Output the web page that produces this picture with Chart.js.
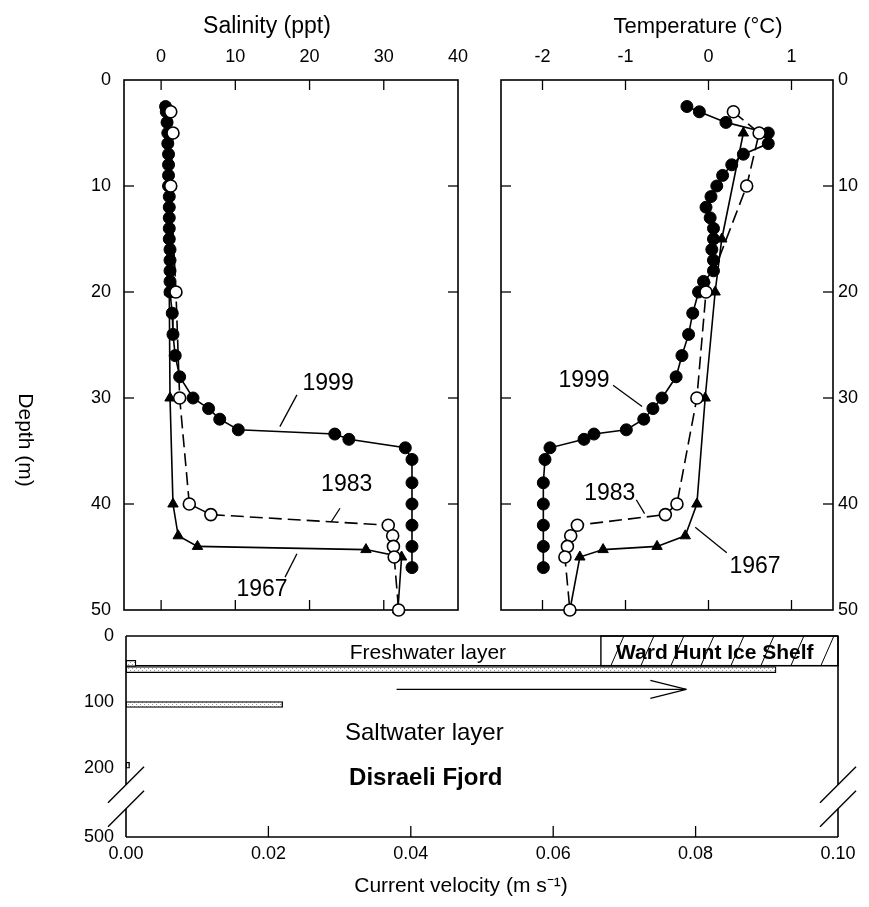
<!DOCTYPE html>
<html>
<head>
<meta charset="utf-8">
<script src="https://cdn.jsdelivr.net/npm/chart.js@4.4.0/dist/chart.umd.min.js"></script>
<style>
html, body { margin: 0; padding: 0; background: #fff; }
#wrap { position: relative; width: 869px; height: 907px; }
#wrap canvas { position: absolute; left: 0; top: 0; }
</style>
</head>
<body>
<div id="wrap">
  <canvas id="sal" width="869" height="907"></canvas>
  <canvas id="temp" width="869" height="907"></canvas>
  <canvas id="vel" width="869" height="907"></canvas>
</div>
<script>
// tick values
const salTicks = [0, 10, 20, 30, 40];
const tempTicks = [-2, -1, 0, 1];
const depthTicks = [0, 10, 20, 30, 40, 50];
const velTicks = [0, 0.02, 0.04, 0.06, 0.08, 0.10];
const velDepthTicks = [0, 100, 200, 305];
const velDepthLabels = ['0', '100', '200', '500'];

// 1999 profile
const depth1999 = [2.5, 3, 4, 5, 6, 7, 8, 9, 10, 11, 12, 13, 14, 15, 16, 17, 18, 19, 20, 22, 24, 26, 28, 30, 31, 32, 33, 33.4, 33.9, 34.7, 35.8, 38, 40, 42, 44, 46];
const sal1999 = [0.6, 0.7, 0.8, 0.9, 0.9, 1.0, 1.0, 1.0, 1.0, 1.1, 1.1, 1.1, 1.1, 1.1, 1.2, 1.2, 1.2, 1.2, 1.2, 1.5, 1.6, 1.9, 2.5, 4.3, 6.4, 7.9, 10.4, 23.4, 25.3, 32.9, 33.8, 33.8, 33.8, 33.8, 33.8, 33.8];
const temp1999 = [-0.26, -0.11, 0.21, 0.72, 0.72, 0.42, 0.28, 0.17, 0.10, 0.03, -0.03, 0.02, 0.06, 0.06, 0.04, 0.06, 0.06, -0.06, -0.12, -0.19, -0.24, -0.32, -0.39, -0.56, -0.67, -0.78, -0.99, -1.38, -1.50, -1.91, -1.97, -1.99, -1.99, -1.99, -1.99, -1.99];

// 1983 profile
const depth1983 = [3, 5, 10, 20, 30, 40, 41, 42, 43, 44, 45, 50];
const sal1983 = [1.3, 1.6, 1.3, 2.0, 2.5, 3.8, 6.7, 30.6, 31.2, 31.3, 31.4, 32.0];
const temp1983 = [0.30, 0.61, 0.46, -0.03, -0.14, -0.38, -0.52, -1.58, -1.66, -1.70, -1.73, -1.67];

// 1967 profile
const depth1967 = [5, 15, 20, 30, 40, 43, 44, 44.3, 45, 50];
const sal1967 = [1.0, 1.1, 1.1, 1.2, 1.6, 2.3, 4.9, 27.6, 32.4, 31.9];
const temp1967 = [0.42, 0.16, 0.08, -0.04, -0.14, -0.28, -0.62, -1.27, -1.55, -1.67];

// current velocity profile
const velDepth = [41.5, 51, 104, 196];
const velocity = [0.0014, 0.0913, 0.022, 0.0005];

const FONT = '"Liberation Sans", Arial, Helvetica, sans-serif';
Chart.defaults.font.family = FONT;
Chart.defaults.color = '#000';

const pts = (xs, ys) => xs.map((x, i) => ({ x: x, y: ys[i] }));

function profileSets(isTemp) {
    return [
        {
            label: '1983',
            data: isTemp ? pts(temp1983, depth1983) : pts(sal1983, depth1983),
            borderColor: '#000', borderWidth: 1.6, borderDash: [13, 6],
            pointStyle: 'circle', pointRadius: 6, pointBackgroundColor: '#fff',
            pointBorderColor: '#000', pointBorderWidth: 1.6,
            showLine: true, clip: false
        },
        {
            label: '1967',
            data: isTemp ? pts(temp1967, depth1967) : pts(sal1967, depth1967),
            borderColor: '#000', borderWidth: 1.6,
            pointStyle: 'triangle', pointRadius: 6, pointBackgroundColor: '#000',
            pointBorderColor: '#000', pointBorderWidth: 1,
            showLine: true, clip: false
        },
        {
            label: '1999',
            data: isTemp ? pts(temp1999, depth1999) : pts(sal1999, depth1999),
            borderColor: '#000', borderWidth: 1.6,
            pointStyle: 'circle', pointRadius: 6, pointBackgroundColor: '#000',
            pointBorderColor: '#000', pointBorderWidth: 1,
            showLine: true, clip: false
        }
    ];
}

function line(ctx, x1, y1, x2, y2) {
    ctx.beginPath(); ctx.moveTo(x1, y1); ctx.lineTo(x2, y2); ctx.stroke();
}

function text(ctx, str, x, y, font, rot) {
    ctx.save();
    ctx.translate(x, y);
    if (rot) ctx.rotate(rot);
    ctx.font = font + ' ' + FONT;
    ctx.textAlign = 'center';
    ctx.textBaseline = 'middle';
    ctx.fillText(str, 0, 0);
    ctx.restore();
}

// frame, inward ticks, leader lines and labels
function makeFrame(cfg) {
    return {
        id: 'frame',
        beforeDatasetsDraw(chart) {
            const { ctx, chartArea: a, scales: { x, y } } = chart;
            ctx.save();
            ctx.strokeStyle = '#000';
            ctx.fillStyle = '#000';
            ctx.lineWidth = 1.6;
            if (cfg.gap) {
                const g1 = y.getPixelForValue(cfg.gap) - 12, g2 = y.getPixelForValue(cfg.gap) + 12;
                line(ctx, a.left, a.top, a.right, a.top);
                line(ctx, a.left, a.bottom, a.right, a.bottom);
                [a.left, a.right].forEach(px => {
                    line(ctx, px, a.top, px, g1);
                    line(ctx, px, g2, px, a.bottom);
                    ctx.lineWidth = 1.4;
                    line(ctx, px - 18, g1 + 18, px + 18, g1 - 18);
                    line(ctx, px - 18, g2 + 18, px + 18, g2 - 18);
                    ctx.lineWidth = 1.6;
                });
            } else {
                ctx.strokeRect(a.left, a.top, a.right - a.left, a.bottom - a.top);
            }
            const L = cfg.tickLen || 10;
            ctx.lineWidth = 1.3;
            (cfg.xTicks || []).forEach(v => {
                const px = x.getPixelForValue(v);
                if (px <= a.left + 1 || px >= a.right - 1) return;
                if (cfg.top !== false) line(ctx, px, a.top, px, a.top + L);
                line(ctx, px, a.bottom, px, a.bottom - L);
            });
            (cfg.yTicks || []).forEach(v => {
                const py = y.getPixelForValue(v);
                if (py <= a.top + 1 || py >= a.bottom - 1) return;
                line(ctx, a.left, py, a.left + L, py);
                line(ctx, a.right, py, a.right - L, py);
            });
            (cfg.leaders || []).forEach(l => {
                line(ctx, x.getPixelForValue(l[0]), y.getPixelForValue(l[1]),
                    x.getPixelForValue(l[2]), y.getPixelForValue(l[3]));
            });
            (cfg.labels || []).forEach(t => {
                text(ctx, t.text, x.getPixelForValue(t.x), y.getPixelForValue(t.y), '23px');
            });
            (cfg.titles || []).forEach(t => {
                text(ctx, t.text, t.cx, t.cy, t.font, t.rot);
            });
            if (cfg.extra) cfg.extra(chart, ctx);
            ctx.restore();
        }
    };
}

function explicitTicks(values) {
    return scale => { scale.ticks = values.map(v => ({ value: v })); };
}

const tickFont = { size: 18 };
const noGrid = { display: false, drawTicks: false };

// Salinity panel
new Chart(document.getElementById('sal'), {
    type: 'scatter',
    data: { datasets: profileSets(false) },
    options: {
        responsive: false,
        animation: false,
        layout: { padding: { left: 0, top: 0, right: 411, bottom: 297 } },
        plugins: { legend: { display: false }, tooltip: { enabled: false } },
        scales: {
            x: {
                type: 'linear', position: 'top', min: -5, max: 40,
                afterBuildTicks: explicitTicks(salTicks),
                afterFit: s => { s.height = 80; },
                grid: noGrid, border: { display: false },
                ticks: { padding: 12, font: tickFont, maxRotation: 0, autoSkip: false }
            },
            y: {
                type: 'linear', position: 'left', reverse: true, min: 0, max: 50,
                afterBuildTicks: explicitTicks(depthTicks),
                afterFit: s => { s.width = 124; },
                grid: noGrid, border: { display: false },
                ticks: { padding: 13, font: tickFont, autoSkip: false }
            }
        }
    },
    plugins: [makeFrame({
        xTicks: salTicks, yTicks: depthTicks,
        labels: [
            { text: '1999', x: 22.5, y: 28.6 },
            { text: '1983', x: 25.0, y: 38.2 },
            { text: '1967', x: 13.6, y: 48.1 }
        ],
        leaders: [
            [18.3, 29.7, 16.0, 32.7],
            [24.1, 40.4, 22.9, 41.7],
            [18.3, 44.7, 16.7, 46.9]
        ],
        titles: [
            { text: 'Salinity (ppt)', cx: 267, cy: 27, font: '23px' },
            { text: 'Depth (m)', cx: 25, cy: 440, font: '21px', rot: Math.PI / 2 }
        ]
    })]
});

// Temperature panel
new Chart(document.getElementById('temp'), {
    type: 'scatter',
    data: { datasets: profileSets(true) },
    options: {
        responsive: false,
        animation: false,
        layout: { padding: { left: 501, top: 0, right: 0, bottom: 297 } },
        plugins: { legend: { display: false }, tooltip: { enabled: false } },
        scales: {
            x: {
                type: 'linear', position: 'top', min: -2.5, max: 1.5,
                afterBuildTicks: explicitTicks(tempTicks),
                afterFit: s => { s.height = 80; },
                grid: noGrid, border: { display: false },
                ticks: { padding: 12, font: tickFont, maxRotation: 0, autoSkip: false }
            },
            y: {
                type: 'linear', position: 'right', reverse: true, min: 0, max: 50,
                afterBuildTicks: explicitTicks(depthTicks),
                afterFit: s => { s.width = 36; },
                grid: noGrid, border: { display: false },
                ticks: { padding: 5, font: tickFont, autoSkip: false }
            }
        }
    },
    plugins: [makeFrame({
        xTicks: tempTicks, yTicks: depthTicks,
        labels: [
            { text: '1999', x: -1.50, y: 28.4 },
            { text: '1983', x: -1.19, y: 39.0 },
            { text: '1967', x: 0.56, y: 45.9 }
        ],
        leaders: [
            [-1.15, 28.8, -0.80, 30.8],
            [-0.87, 39.6, -0.77, 40.9],
            [-0.16, 42.2, 0.22, 44.6]
        ],
        titles: [
            { text: 'Temperature (°C)', cx: 698, cy: 27, font: '22px' }
        ]
    })]
});

// Current velocity panel
const velCanvas = document.getElementById('vel');
const pc = document.createElement('canvas');
pc.width = 4; pc.height = 4;
const pctx = pc.getContext('2d');
pctx.fillStyle = '#fff'; pctx.fillRect(0, 0, 4, 4);
pctx.fillStyle = '#9a9a9a'; pctx.fillRect(0, 0, 1, 1); pctx.fillRect(2, 2, 1, 1);
const stipple = velCanvas.getContext('2d').createPattern(pc, 'repeat');

new Chart(velCanvas, {
    type: 'bar',
    data: {
        datasets: [{
            data: pts(velocity, velDepth),
            backgroundColor: stipple,
            borderColor: '#000',
            borderWidth: 1.3,
            barThickness: 6,
            borderSkipped: false
        }]
    },
    options: {
        indexAxis: 'y',
        responsive: false,
        animation: false,
        layout: { padding: { left: 0, top: 636, right: 31, bottom: 0 } },
        plugins: { legend: { display: false }, tooltip: { enabled: false } },
        scales: {
            x: {
                type: 'linear', position: 'bottom', min: 0, max: 0.1,
                afterBuildTicks: explicitTicks(velTicks),
                afterFit: s => { s.height = 70; },
                grid: noGrid, border: { display: false },
                ticks: { padding: 6, font: tickFont, maxRotation: 0, autoSkip: false, callback: v => v.toFixed(2) }
            },
            y: {
                type: 'linear', position: 'left', reverse: true, min: 0, max: 305, offset: false,
                afterBuildTicks: explicitTicks(velDepthTicks),
                afterFit: s => { s.width = 126; },
                grid: noGrid, border: { display: false },
                ticks: { padding: 12, font: tickFont, autoSkip: false,
                    callback: v => velDepthLabels[velDepthTicks.indexOf(v)] }
            }
        }
    },
    plugins: [makeFrame({
        xTicks: velTicks, top: false, tickLen: 11, gap: 244,
        titles: [
            { text: 'Current velocity (m s⁻¹)', cx: 461, cy: 886, font: '21px' }
        ],
        extra(chart, ctx) {
            const { chartArea: a, scales: { x, y } } = chart;
            const fy = y.getPixelForValue(45);
            const iceL = x.getPixelForValue(0.0667);
            // freshwater layer boundary
            ctx.lineWidth = 1.4;
            line(ctx, a.left, fy, a.right, fy);
            // ice shelf box with hatching
            ctx.strokeRect(iceL, a.top, a.right - iceL, fy - a.top);
            ctx.save();
            ctx.beginPath();
            ctx.rect(iceL, a.top, a.right - iceL, fy - a.top);
            ctx.clip();
            ctx.lineWidth = 1;
            for (let px = iceL - 20; px < a.right + 20; px += 30) {
                line(ctx, px, fy, px + 13, a.top);
            }
            ctx.restore();
            // flow arrow
            const ay = y.getPixelForValue(81);
            const ax1 = x.getPixelForValue(0.038), ax2 = x.getPixelForValue(0.0787);
            ctx.lineWidth = 1.4;
            line(ctx, ax1, ay, ax2, ay);
            line(ctx, ax2, ay, ax2 - 36, ay - 9);
            line(ctx, ax2, ay, ax2 - 36, ay + 9);
            // texts
            text(ctx, 'Freshwater layer', x.getPixelForValue(0.0424), y.getPixelForValue(25.8), '21px');
            text(ctx, 'Ward Hunt Ice Shelf', x.getPixelForValue(0.0827), y.getPixelForValue(25.8), 'bold 21px');
            text(ctx, 'Saltwater layer', x.getPixelForValue(0.0419), y.getPixelForValue(147), '24px');
            text(ctx, 'Disraeli Fjord', x.getPixelForValue(0.0421), y.getPixelForValue(215.5), 'bold 24px');
        }
    })]
});
</script>
</body>
</html>
